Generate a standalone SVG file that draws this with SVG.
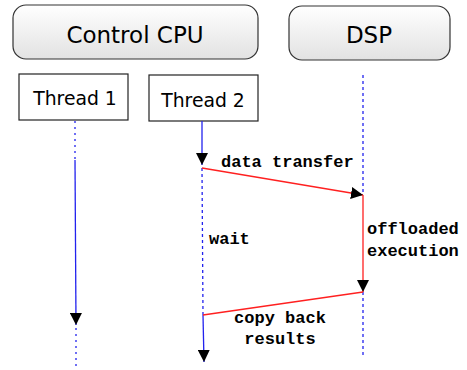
<svg xmlns="http://www.w3.org/2000/svg" width="467" height="370" viewBox="0 0 467 370">
  <defs>
    <linearGradient id="procFill" x1="0" y1="0" x2="0" y2="1">
      <stop offset="0" stop-color="#ffffff"/>
      <stop offset="1" stop-color="#e2e2e2"/>
    </linearGradient>
    <marker id="arrow" viewBox="0 0 10 10" refX="10" refY="5" markerWidth="12" markerHeight="12" markerUnits="userSpaceOnUse" orient="auto">
      <path d="M0,0 L10,5 L0,10 Z" fill="#000"/>
    </marker>
  </defs>
  <style>
    .proc { fill: url(#procFill); stroke: #333; stroke-width: 1.2; }
    .thread { fill: #fff; stroke: #222; stroke-width: 1.2; }
    .title { font-family: "DejaVu Sans", sans-serif; font-size: 23px; fill: #000; text-anchor: middle; }
    .tname { font-family: "DejaVu Sans", sans-serif; font-size: 18.8px; fill: #000; text-anchor: middle; }
    .life { stroke: #2222ee; stroke-width: 1.3; fill: none; }
    .dash { stroke-dasharray: 3 3; }
    .dot { stroke-dasharray: 2 4; }
    .msg { stroke: #ff2020; stroke-width: 1.3; fill: none; }
    .lbl { font-family: "Liberation Mono", "Courier New", monospace; font-weight: bold; font-size: 17px; fill: #000; }
  </style>

  <g id="control-cpu">
    <rect class="proc" x="13" y="5" width="245" height="54" rx="13"/>
    <text class="title" x="135" y="43">Control CPU</text>
  </g>
  <g id="dsp">
    <rect class="proc" x="289" y="6" width="161" height="54" rx="13"/>
    <text class="title" x="369" y="43">DSP</text>
  </g>
  <g id="thread-1">
    <rect class="thread" x="19" y="74" width="109" height="46"/>
    <text class="tname" x="75" y="105">Thread 1</text>
  </g>
  <g id="thread-2">
    <rect class="thread" x="149" y="75" width="109" height="46"/>
    <text class="tname" x="203" y="107">Thread 2</text>
  </g>

  <g id="connectors">
    <!-- Thread 1 lifeline -->
    <line class="life dot" x1="75" y1="121" x2="75" y2="160"/>
    <line class="life" x1="75" y1="160" x2="76" y2="325" marker-end="url(#arrow)"/>
    <line class="life dot" x1="76" y1="328" x2="76" y2="368"/>
    <!-- Thread 2 lifeline -->
    <line class="life" x1="202" y1="121" x2="202" y2="165" marker-end="url(#arrow)"/>
    <line class="life dash" x1="202" y1="168" x2="203" y2="315"/>
    <line class="life" x1="203" y1="315" x2="204" y2="362" marker-end="url(#arrow)"/>
    <!-- DSP lifeline -->
    <line class="life dash" x1="363" y1="75" x2="363" y2="195"/>
    <line class="life dash" x1="363" y1="292" x2="363" y2="358"/>
    <!-- messages -->
    <line class="msg" x1="202" y1="168" x2="363" y2="195" marker-end="url(#arrow)"/>
    <line class="msg" x1="363" y1="195" x2="363" y2="292" marker-end="url(#arrow)"/>
    <line class="msg" x1="363" y1="292" x2="203" y2="315"/>
  </g>

  <g id="labels">
    <text class="lbl" x="221" y="167">data transfer</text>
    <text class="lbl" x="209" y="244">wait</text>
    <text class="lbl" x="367" y="234">offloaded</text>
    <text class="lbl" x="367" y="256">execution</text>
    <text class="lbl" x="280" y="323" text-anchor="middle">copy back</text>
    <text class="lbl" x="280" y="344" text-anchor="middle">results</text>
  </g>
</svg>
